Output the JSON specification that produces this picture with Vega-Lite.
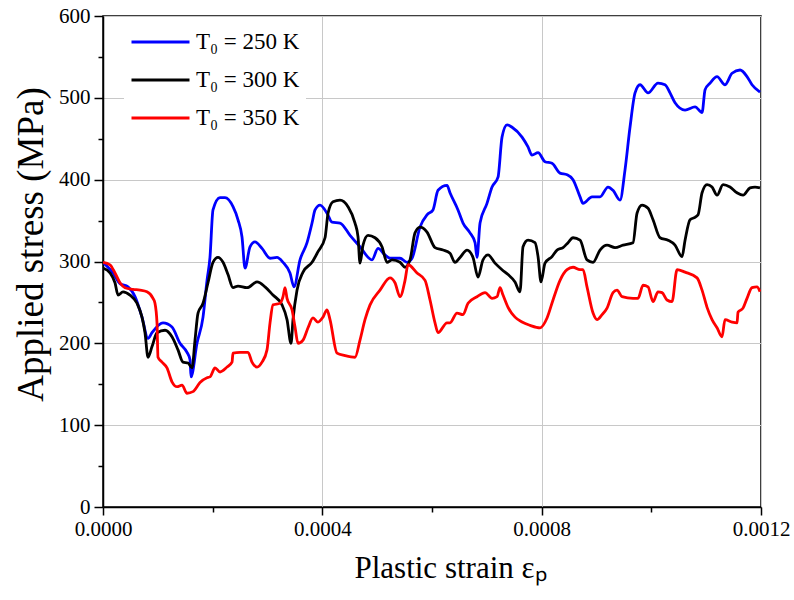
{
  "$schema": "https://vega.github.io/schema/vega-lite/v6.json",
  "autosize": {"type": "none"},
  "padding": {"left": 103, "top": 16, "right": 33, "bottom": 93},
  "width": 658,
  "height": 491,
  "background": "white",
  "config": {
    "font": "Liberation Serif",
    "style": {"guide-label": {"font": "Liberation Serif"}, "guide-title": {"font": "Liberation Serif"}},
    "view": {"stroke": "black", "strokeWidth": 1.5},
    "axis": {"domainColor": "black", "domainWidth": 1.5, "tickColor": "black", "tickWidth": 1.5, "labelColor": "black", "titleColor": "black", "titleFontWeight": "normal", "gridColor": "#c8c8c8", "gridWidth": 1, "labelFont": "Liberation Serif", "titleFont": "Liberation Serif", "labelFlush": false}
  },
  "data": {"values": [
    {"k":250,"x":0,"y":299},{"k":250,"x":0.0000182,"y":286},{"k":250,"x":0.000031,"y":273},{"k":250,"x":0.0000456,"y":269},{"k":250,"x":0.0000584,"y":257},{"k":250,"x":0.0000711,"y":232},{"k":250,"x":0.0000821,"y":206},{"k":250,"x":0.0000894,"y":213},{"k":250,"x":0.0001094,"y":225},{"k":250,"x":0.0001258,"y":220},{"k":250,"x":0.0001404,"y":200},{"k":250,"x":0.0001532,"y":189},{"k":250,"x":0.0001587,"y":180},{"k":250,"x":0.0001605,"y":159},{"k":250,"x":0.0001714,"y":200},{"k":250,"x":0.0001824,"y":232},{"k":250,"x":0.0001897,"y":277},{"k":250,"x":0.0001951,"y":305},{"k":250,"x":0.0002006,"y":363},{"k":250,"x":0.0002134,"y":378},{"k":250,"x":0.0002225,"y":378},{"k":250,"x":0.0002371,"y":367},{"k":250,"x":0.0002462,"y":351},{"k":250,"x":0.0002535,"y":330},{"k":250,"x":0.000259,"y":292},{"k":250,"x":0.0002681,"y":318},{"k":250,"x":0.0002772,"y":324},{"k":250,"x":0.00029,"y":316},{"k":250,"x":0.0003046,"y":304},{"k":250,"x":0.0003173,"y":305},{"k":250,"x":0.0003283,"y":299},{"k":250,"x":0.000341,"y":286},{"k":250,"x":0.0003483,"y":269},{"k":250,"x":0.0003593,"y":302},{"k":250,"x":0.0003721,"y":323},{"k":250,"x":0.0003812,"y":347},{"k":250,"x":0.0003867,"y":363},{"k":250,"x":0.0003958,"y":369},{"k":250,"x":0.0004085,"y":359},{"k":250,"x":0.0004177,"y":348},{"k":250,"x":0.0004322,"y":347},{"k":250,"x":0.0004505,"y":332},{"k":250,"x":0.0004687,"y":318},{"k":250,"x":0.0004906,"y":302},{"k":250,"x":0.0005015,"y":316},{"k":250,"x":0.0005143,"y":308},{"k":250,"x":0.0005234,"y":304},{"k":250,"x":0.0005417,"y":304},{"k":250,"x":0.0005544,"y":299},{"k":250,"x":0.0005636,"y":304},{"k":250,"x":0.0005781,"y":342},{"k":250,"x":0.0005909,"y":357},{"k":250,"x":0.0006018,"y":363},{"k":250,"x":0.000611,"y":387},{"k":250,"x":0.0006274,"y":393},{"k":250,"x":0.0006328,"y":384},{"k":250,"x":0.0006474,"y":363},{"k":250,"x":0.0006566,"y":347},{"k":250,"x":0.0006693,"y":335},{"k":250,"x":0.0006785,"y":323},{"k":250,"x":0.0006821,"y":305},{"k":250,"x":0.0006876,"y":347},{"k":250,"x":0.0007003,"y":371},{"k":250,"x":0.0007095,"y":391},{"k":250,"x":0.0007204,"y":403},{"k":250,"x":0.0007277,"y":452},{"k":250,"x":0.0007368,"y":467},{"k":250,"x":0.000746,"y":464},{"k":250,"x":0.0007642,"y":452},{"k":250,"x":0.0007751,"y":440},{"k":250,"x":0.0007824,"y":430},{"k":250,"x":0.0007934,"y":433},{"k":250,"x":0.0008061,"y":422},{"k":250,"x":0.0008189,"y":420},{"k":250,"x":0.0008335,"y":408},{"k":250,"x":0.0008463,"y":406},{"k":250,"x":0.0008572,"y":400},{"k":250,"x":0.00087,"y":379},{"k":250,"x":0.0008754,"y":371},{"k":250,"x":0.0008918,"y":379},{"k":250,"x":0.0009064,"y":379},{"k":250,"x":0.000921,"y":391},{"k":250,"x":0.0009301,"y":387},{"k":250,"x":0.0009429,"y":375},{"k":250,"x":0.000952,"y":412},{"k":250,"x":0.0009611,"y":464},{"k":250,"x":0.0009703,"y":506},{"k":250,"x":0.0009794,"y":516},{"k":250,"x":0.000994,"y":506},{"k":250,"x":0.0010122,"y":518},{"k":250,"x":0.001025,"y":516},{"k":250,"x":0.0010341,"y":506},{"k":250,"x":0.0010432,"y":494},{"k":250,"x":0.0010615,"y":485},{"k":250,"x":0.0010797,"y":489},{"k":250,"x":0.0010925,"y":482},{"k":250,"x":0.001098,"y":510},{"k":250,"x":0.0011071,"y":518},{"k":250,"x":0.0011198,"y":526},{"k":250,"x":0.0011344,"y":516},{"k":250,"x":0.0011472,"y":530},{"k":250,"x":0.0011618,"y":534},{"k":250,"x":0.0011745,"y":526},{"k":250,"x":0.0011836,"y":516},{"k":250,"x":0.0011982,"y":507},
    {"k":300,"x":0,"y":292},{"k":300,"x":0.0000128,"y":286},{"k":300,"x":0.0000219,"y":274},{"k":300,"x":0.0000274,"y":259},{"k":300,"x":0.0000365,"y":263},{"k":300,"x":0.0000492,"y":259},{"k":300,"x":0.000062,"y":249},{"k":300,"x":0.0000711,"y":232},{"k":300,"x":0.0000766,"y":213},{"k":300,"x":0.0000821,"y":183},{"k":300,"x":0.0000894,"y":196},{"k":300,"x":0.0000985,"y":213},{"k":300,"x":0.0001131,"y":216},{"k":300,"x":0.0001258,"y":208},{"k":300,"x":0.0001368,"y":192},{"k":300,"x":0.0001459,"y":177},{"k":300,"x":0.000155,"y":176},{"k":300,"x":0.0001623,"y":170},{"k":300,"x":0.0001678,"y":204},{"k":300,"x":0.0001733,"y":237},{"k":300,"x":0.0001824,"y":249},{"k":300,"x":0.0001915,"y":274},{"k":300,"x":0.0002006,"y":299},{"k":300,"x":0.0002097,"y":305},{"k":300,"x":0.0002189,"y":299},{"k":300,"x":0.000228,"y":284},{"k":300,"x":0.0002371,"y":268},{"k":300,"x":0.0002462,"y":270},{"k":300,"x":0.0002626,"y":268},{"k":300,"x":0.0002809,"y":275},{"k":300,"x":0.0002955,"y":269},{"k":300,"x":0.00031,"y":259},{"k":300,"x":0.0003265,"y":247},{"k":300,"x":0.0003356,"y":229},{"k":300,"x":0.0003429,"y":200},{"k":300,"x":0.0003465,"y":229},{"k":300,"x":0.0003538,"y":265},{"k":300,"x":0.0003648,"y":287},{"k":300,"x":0.0003812,"y":299},{"k":300,"x":0.0003921,"y":312},{"k":300,"x":0.0004049,"y":329},{"k":300,"x":0.0004104,"y":359},{"k":300,"x":0.0004195,"y":373},{"k":300,"x":0.0004322,"y":375},{"k":300,"x":0.0004468,"y":367},{"k":300,"x":0.0004596,"y":347},{"k":300,"x":0.0004651,"y":330},{"k":300,"x":0.0004687,"y":298},{"k":300,"x":0.0004742,"y":320},{"k":300,"x":0.0004833,"y":332},{"k":300,"x":0.0004961,"y":329},{"k":300,"x":0.0005088,"y":318},{"k":300,"x":0.000518,"y":299},{"k":300,"x":0.0005271,"y":302},{"k":300,"x":0.0005417,"y":299},{"k":300,"x":0.0005508,"y":293},{"k":300,"x":0.0005599,"y":302},{"k":300,"x":0.000569,"y":335},{"k":300,"x":0.0005781,"y":342},{"k":300,"x":0.0005909,"y":336},{"k":300,"x":0.0006055,"y":317},{"k":300,"x":0.0006201,"y":314},{"k":300,"x":0.0006328,"y":310},{"k":300,"x":0.000642,"y":299},{"k":300,"x":0.0006511,"y":305},{"k":300,"x":0.0006639,"y":314},{"k":300,"x":0.0006748,"y":305},{"k":300,"x":0.0006839,"y":281},{"k":300,"x":0.000693,"y":302},{"k":300,"x":0.0007022,"y":308},{"k":300,"x":0.0007149,"y":298},{"k":300,"x":0.0007277,"y":290},{"k":300,"x":0.0007387,"y":284},{"k":300,"x":0.0007514,"y":275},{"k":300,"x":0.0007605,"y":263},{"k":300,"x":0.000766,"y":318},{"k":300,"x":0.0007751,"y":326},{"k":300,"x":0.0007879,"y":323},{"k":300,"x":0.0007934,"y":306},{"k":300,"x":0.0007988,"y":275},{"k":300,"x":0.0008061,"y":298},{"k":300,"x":0.0008189,"y":306},{"k":300,"x":0.000828,"y":314},{"k":300,"x":0.000839,"y":317},{"k":300,"x":0.0008481,"y":323},{"k":300,"x":0.0008572,"y":329},{"k":300,"x":0.00087,"y":326},{"k":300,"x":0.0008827,"y":302},{"k":300,"x":0.0008937,"y":299},{"k":300,"x":0.0009064,"y":314},{"k":300,"x":0.0009192,"y":320},{"k":300,"x":0.0009338,"y":317},{"k":300,"x":0.0009484,"y":320},{"k":300,"x":0.0009666,"y":323},{"k":300,"x":0.0009739,"y":359},{"k":300,"x":0.000983,"y":369},{"k":300,"x":0.000994,"y":365},{"k":300,"x":0.0010031,"y":351},{"k":300,"x":0.0010159,"y":329},{"k":300,"x":0.0010305,"y":326},{"k":300,"x":0.0010432,"y":320},{"k":300,"x":0.001056,"y":306},{"k":300,"x":0.0010615,"y":326},{"k":300,"x":0.0010706,"y":351},{"k":300,"x":0.0010797,"y":354},{"k":300,"x":0.0010852,"y":357},{"k":300,"x":0.0010925,"y":384},{"k":300,"x":0.0011016,"y":394},{"k":300,"x":0.0011107,"y":391},{"k":300,"x":0.0011198,"y":381},{"k":300,"x":0.0011308,"y":394},{"k":300,"x":0.0011435,"y":391},{"k":300,"x":0.0011563,"y":384},{"k":300,"x":0.0011672,"y":381},{"k":300,"x":0.00118,"y":390},{"k":300,"x":0.0011891,"y":391},{"k":300,"x":0.0011982,"y":390},
    {"k":350,"x":0,"y":299},{"k":350,"x":0.0000128,"y":296},{"k":350,"x":0.0000219,"y":286},{"k":350,"x":0.000031,"y":274},{"k":350,"x":0.0000401,"y":268},{"k":350,"x":0.0000547,"y":266},{"k":350,"x":0.0000675,"y":265},{"k":350,"x":0.0000802,"y":263},{"k":350,"x":0.0000912,"y":255},{"k":350,"x":0.0000948,"y":249},{"k":350,"x":0.0000985,"y":225},{"k":350,"x":0.0001003,"y":183},{"k":350,"x":0.0001076,"y":177},{"k":350,"x":0.0001167,"y":170},{"k":350,"x":0.0001258,"y":153},{"k":350,"x":0.000135,"y":147},{"k":350,"x":0.0001441,"y":149},{"k":350,"x":0.0001532,"y":139},{"k":350,"x":0.0001641,"y":141},{"k":350,"x":0.0001769,"y":152},{"k":350,"x":0.0001897,"y":158},{"k":350,"x":0.0001951,"y":159},{"k":350,"x":0.0002043,"y":170},{"k":350,"x":0.0002134,"y":165},{"k":350,"x":0.0002262,"y":171},{"k":350,"x":0.0002353,"y":177},{"k":350,"x":0.0002371,"y":188},{"k":350,"x":0.0002499,"y":189},{"k":350,"x":0.0002645,"y":189},{"k":350,"x":0.0002717,"y":177},{"k":350,"x":0.0002809,"y":171},{"k":350,"x":0.00029,"y":177},{"k":350,"x":0.0002991,"y":192},{"k":350,"x":0.0003046,"y":225},{"k":350,"x":0.00031,"y":247},{"k":350,"x":0.0003228,"y":249},{"k":350,"x":0.0003283,"y":257},{"k":350,"x":0.0003319,"y":268},{"k":350,"x":0.0003356,"y":255},{"k":350,"x":0.0003447,"y":241},{"k":350,"x":0.0003502,"y":220},{"k":350,"x":0.0003556,"y":200},{"k":350,"x":0.0003648,"y":204},{"k":350,"x":0.0003739,"y":219},{"k":350,"x":0.000383,"y":231},{"k":350,"x":0.0003921,"y":226},{"k":350,"x":0.0004012,"y":232},{"k":350,"x":0.0004085,"y":241},{"k":350,"x":0.000414,"y":229},{"k":350,"x":0.0004268,"y":188},{"k":350,"x":0.0004414,"y":185},{"k":350,"x":0.0004596,"y":183},{"k":350,"x":0.0004687,"y":204},{"k":350,"x":0.0004778,"y":229},{"k":350,"x":0.000487,"y":247},{"k":350,"x":0.0005052,"y":265},{"k":350,"x":0.0005234,"y":280},{"k":350,"x":0.0005325,"y":274},{"k":350,"x":0.0005417,"y":257},{"k":350,"x":0.0005508,"y":277},{"k":350,"x":0.0005563,"y":296},{"k":350,"x":0.0005727,"y":286},{"k":350,"x":0.0005873,"y":277},{"k":350,"x":0.0005964,"y":253},{"k":350,"x":0.0006055,"y":225},{"k":350,"x":0.000611,"y":213},{"k":350,"x":0.0006274,"y":225},{"k":350,"x":0.0006328,"y":225},{"k":350,"x":0.0006456,"y":237},{"k":350,"x":0.0006566,"y":235},{"k":350,"x":0.0006657,"y":249},{"k":350,"x":0.0006821,"y":257},{"k":350,"x":0.0006967,"y":262},{"k":350,"x":0.0007095,"y":255},{"k":350,"x":0.0007186,"y":257},{"k":350,"x":0.000724,"y":268},{"k":350,"x":0.0007295,"y":259},{"k":350,"x":0.0007387,"y":244},{"k":350,"x":0.0007514,"y":232},{"k":350,"x":0.0007642,"y":226},{"k":350,"x":0.0007788,"y":222},{"k":350,"x":0.000797,"y":219},{"k":350,"x":0.0008098,"y":231},{"k":350,"x":0.0008207,"y":253},{"k":350,"x":0.0008335,"y":277},{"k":350,"x":0.0008463,"y":290},{"k":350,"x":0.0008572,"y":293},{"k":350,"x":0.00087,"y":290},{"k":350,"x":0.0008754,"y":290},{"k":350,"x":0.0008827,"y":269},{"k":350,"x":0.0008937,"y":237},{"k":350,"x":0.000901,"y":229},{"k":350,"x":0.0009101,"y":235},{"k":350,"x":0.0009192,"y":243},{"k":350,"x":0.0009301,"y":262},{"k":350,"x":0.0009374,"y":265},{"k":350,"x":0.0009466,"y":257},{"k":350,"x":0.0009666,"y":255},{"k":350,"x":0.0009757,"y":255},{"k":350,"x":0.0009849,"y":271},{"k":350,"x":0.000994,"y":269},{"k":350,"x":0.0010031,"y":251},{"k":350,"x":0.0010122,"y":263},{"k":350,"x":0.0010195,"y":262},{"k":350,"x":0.0010286,"y":253},{"k":350,"x":0.0010377,"y":251},{"k":350,"x":0.0010469,"y":290},{"k":350,"x":0.0010615,"y":287},{"k":350,"x":0.0010834,"y":280},{"k":350,"x":0.0010925,"y":265},{"k":350,"x":0.0011016,"y":244},{"k":350,"x":0.0011107,"y":229},{"k":350,"x":0.0011198,"y":219},{"k":350,"x":0.0011289,"y":208},{"k":350,"x":0.0011344,"y":229},{"k":350,"x":0.0011472,"y":226},{"k":350,"x":0.0011563,"y":225},{"k":350,"x":0.0011581,"y":238},{"k":350,"x":0.0011672,"y":243},{"k":350,"x":0.0011745,"y":255},{"k":350,"x":0.0011836,"y":268},{"k":350,"x":0.0011927,"y":269},{"k":350,"x":0.0011982,"y":263}
  ]},
  "mark": {"type": "line", "strokeWidth": 2.8, "interpolate": "monotone", "clip": true},
  "encoding": {
    "x": {
      "field": "x", "type": "quantitative",
      "scale": {"domain": [0, 0.0012], "nice": false, "zero": false},
      "axis": {
        "title": "Plastic strain εₚ",
        "titleFontSize": 31, "titlePadding": 14, "titleX": 347,
        "values": [0, 0.0002, 0.0004, 0.0006, 0.0008, 0.001, 0.0012],
        "format": ".4f",
        "labelExpr": "round(datum.value*10000) % 4 === 0 ? datum.label : ''",
        "labelFont": "Liberation Serif",
        "labelFontSize": 21, "labelPadding": 3, "labelFlush": false,
        "tickSize": {"condition": {"test": "round(datum.value*10000) % 4 === 0", "value": 8}, "value": 5},
        "gridOpacity": {"condition": {"test": "round(datum.value*10000) % 4 === 0", "value": 1}, "value": 0},
        "encode": {"labels": {"update": {"font": {"value": "Liberation Serif"}}}}
      }
    },
    "y": {
      "field": "y", "type": "quantitative",
      "scale": {"domain": [0, 600], "nice": false},
      "axis": {
        "title": "Applied stress (MPa)",
        "titleFontSize": 37, "titlePadding": 8, "titleY": 228,
        "values": [0, 50, 100, 150, 200, 250, 300, 350, 400, 450, 500, 550, 600],
        "labelExpr": "datum.value % 100 === 0 ? datum.label : ''",
        "labelFont": "Liberation Serif",
        "labelFontSize": 21, "labelPadding": 4, "labelFlush": false,
        "tickSize": {"condition": {"test": "datum.value % 100 === 0", "value": 9}, "value": 5},
        "gridOpacity": {"condition": {"test": "datum.value % 100 === 0", "value": 1}, "value": 0},
        "encode": {"labels": {"update": {"font": {"value": "Liberation Serif"}}}}
      }
    },
    "color": {
      "field": "k", "type": "nominal",
      "scale": {"domain": [250, 300, 350], "range": ["#0000ff", "#000000", "#ff0000"]},
      "legend": {
        "title": null,
        "orient": "none", "legendX": 21, "legendY": 3,
        "fillColor": "white", "padding": 6,
        "symbolType": "stroke", "symbolSize": 3364, "symbolStrokeWidth": 3,
        "clipHeight": 34, "rowPadding": 4,
        "labelExpr": "'T₀ = ' + datum.label + ' K'",
        "labelFont": "Liberation Serif", "labelFontSize": 23, "labelColor": "black",
        "labelOffset": 5
      }
    }
  }
}
